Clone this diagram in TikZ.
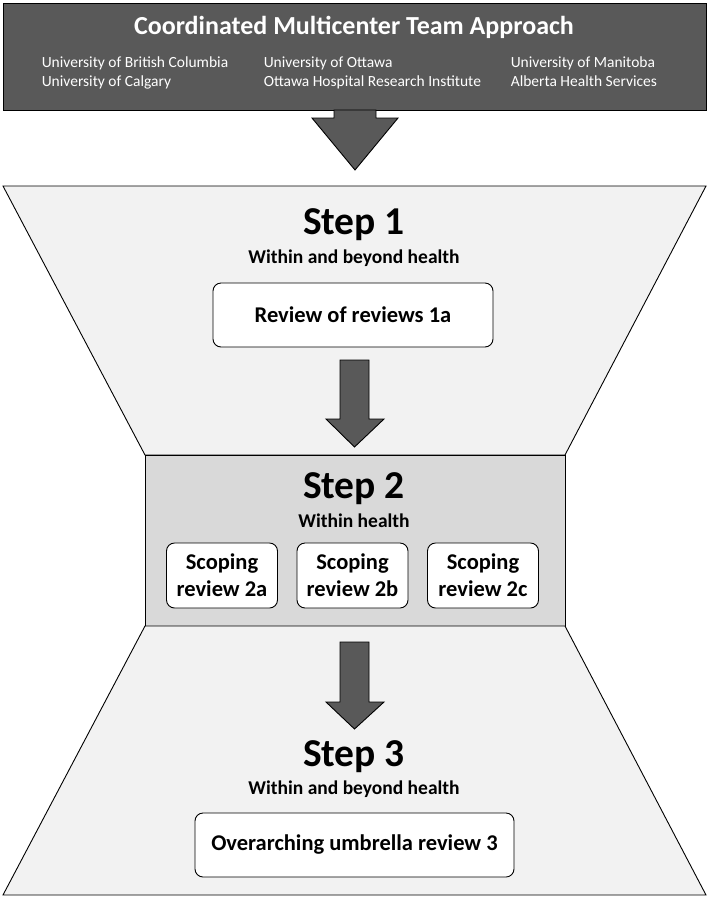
\documentclass[tikz,border=0pt]{standalone}
\usepackage{fontspec}
\setmainfont{Carlito}
\usepackage{xcolor}
\usepackage{tikz}

\definecolor{darkbox}{HTML}{595959}
\definecolor{lightfunnel}{HTML}{F2F2F2}
\definecolor{midbox}{HTML}{D9D9D9}

\begin{document}
\begin{tikzpicture}[x=1pt, y=-1pt, line width=0.9pt,
  steptitle/.style={anchor=base, font=\fontsize{39.5}{44}\selectfont\bfseries},
  stepsub/.style={anchor=base, font=\fontsize{19.5}{22}\selectfont\bfseries},
  reviewbox/.style={draw, fill=white, rounded corners=8pt, align=center,
    font=\fontsize{22.5}{27}\selectfont\bfseries, inner sep=0pt},
  univ/.style={anchor=base west, text=white, font=\fontsize{15.5}{17}\selectfont},
  blockarrow/.style={draw, fill=darkbox}]
            \useasboundingbox (0,0) rectangle (709,898);
            % Team header
            \filldraw[fill=darkbox] (3,3) rectangle (706,110);
            \node[anchor=base, text=white, font=\fontsize{26}{29}\selectfont\bfseries] (team) at (354,34) {Coordinated Multicenter Team Approach};
            \node[univ] (ubc) at (38,67) {University of British Columbia};
            \node[univ] (ucal) at (38,86) {University of Calgary};
            \node[univ] (uott) at (260,67) {University of Ottawa};
            \node[univ] (ohri) at (260,86) {Ottawa Hospital Research Institute};
            \node[univ] (uman) at (507,67) {University of Manitoba};
            \node[univ] (ahs) at (507,86) {Alberta Health Services};
            \draw[blockarrow] (334,110) -- (376,110) -- (376,118) -- (398,118) -- (355,170) -- (312,118) -- (334,118) -- cycle;
            % Funnel
            \filldraw[fill=lightfunnel] (3,186) -- (706,186) -- (565,455) -- (145,455) -- cycle;
            \filldraw[fill=midbox] (145,455) rectangle (565,626);
            \filldraw[fill=lightfunnel] (145,626) -- (565,626) -- (706,895) -- (3,895) -- cycle;
            % Step 1
            \node[steptitle] (step1) at (354,234) {Step 1};
            \node[stepsub] (sub1) at (354,263) {Within and beyond health};
            \node[reviewbox, minimum width=280, minimum height=64] (rev1a) at (353,315) {Review of reviews 1a};
            \draw[blockarrow] (340,360) -- (369,360) -- (369,419) -- (384,419) -- (354.5,447) -- (326,419) -- (340,419) -- cycle;
            % Step 2
            \node[steptitle] (step2) at (354,498) {Step 2};
            \node[stepsub] (sub2) at (354,527) {Within health};
            \node[reviewbox, minimum width=111, minimum height=65] (rev2a) at (222,575.5) {Scoping\\review 2a};
            \node[reviewbox, minimum width=111, minimum height=65] (rev2b) at (352.5,575.5) {Scoping\\review 2b};
            \node[reviewbox, minimum width=111, minimum height=65] (rev2c) at (483,575.5) {Scoping\\review 2c};
            \draw[blockarrow] (340,642) -- (369,642) -- (369,702) -- (384,702) -- (354.5,729) -- (326,702) -- (340,702) -- cycle;
            % Step 3
            \node[steptitle] (step3) at (354,766) {Step 3};
            \node[stepsub] (sub3) at (354,794) {Within and beyond health};
            \node[reviewbox, minimum width=319, minimum height=64] (rev3) at (354.5,845) {Overarching umbrella review 3};
        \end{tikzpicture}
\end{document}
